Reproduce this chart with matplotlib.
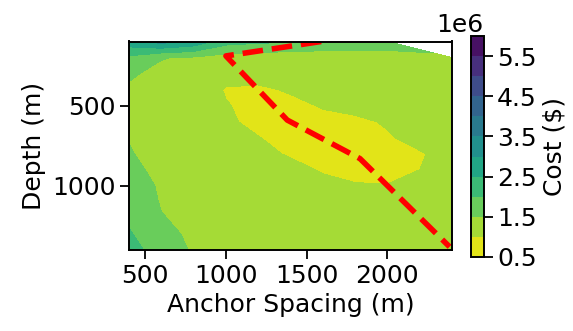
import numpy as np
import matplotlib
matplotlib.use("Agg")
from matplotlib import pyplot as plt

# anchor spacing (m) and depth (m) of the grid
spacing = [400, 600, 800, 1000, 1200, 1400, 1600, 1800, 2000, 2400]
depth = [100, 200, 300, 400, 500, 600, 700, 800, 900, 1000, 1100, 1200, 1300, 1400]

# cost in millions of $, one row per depth
nan = np.nan
cost_musd = [
    [2.80, 3.20, 2.90, 2.20, 2.10, 2.05, 1.90, 1.80, 1.75, nan],
    [1.90, 1.52, 1.45, 1.30, 1.20, 1.20, 1.20, 1.25, 1.30, 1.40],
    [1.55, 1.40, 1.35, 1.15, 1.12, 1.12, 1.15, 1.18, 1.22, 1.35],
    [1.45, 1.38, 1.25, 0.97, 0.95, 1.03, 1.10, 1.12, 1.15, 1.28],
    [1.42, 1.35, 1.20, 1.02, 0.90, 0.93, 1.02, 1.06, 1.10, 1.22],
    [1.44, 1.30, 1.20, 1.05, 0.92, 0.90, 0.93, 0.96, 1.02, 1.18],
    [1.48, 1.30, 1.22, 1.10, 1.01, 0.90, 0.88, 0.90, 0.98, 1.14],
    [1.53, 1.35, 1.25, 1.15, 1.05, 0.98, 0.88, 0.86, 0.88, 1.08],
    [1.60, 1.40, 1.30, 1.20, 1.12, 1.06, 0.98, 0.92, 0.92, 1.08],
    [1.70, 1.45, 1.33, 1.22, 1.18, 1.12, 1.06, 1.02, 1.01, 1.12],
    [1.80, 1.47, 1.36, 1.25, 1.20, 1.16, 1.12, 1.08, 1.06, 1.13],
    [1.92, 1.52, 1.40, 1.28, 1.22, 1.20, 1.16, 1.12, 1.10, 1.14],
    [2.05, 1.62, 1.42, 1.30, 1.25, 1.22, 1.20, 1.16, 1.14, 1.15],
    [2.20, 1.75, 1.45, 1.32, 1.27, 1.25, 1.22, 1.20, 1.18, 1.16],
]

# optimal spacing path
path_spacing = [1590, 1000, 1380, 1830, 2385]
path_depth = [100, 190, 590, 830, 1380]

plt.rcParams['font.size'] = 18
plt.rcParams['axes.linewidth'] = 1.4
plt.rcParams['xtick.major.size'] = 6.3
plt.rcParams['ytick.major.size'] = 6.3
plt.rcParams['xtick.major.width'] = 1.3
plt.rcParams['ytick.major.width'] = 1.3

fig = plt.figure(figsize=(5.73, 3.31), dpi=100)
ax = fig.add_axes([129/573, 81/331, 323/573, 208.5/331])
cax = fig.add_axes([471/573, 74/331, 12.5/573, 221/331])

Z = np.array(cost_musd) * 1e6
levels = np.arange(0.5, 6.01, 0.5) * 1e6
cs = ax.contourf(spacing, depth, Z, levels=levels, cmap='viridis_r')
ax.plot(path_spacing, path_depth, 'r--', lw=4)
ax.set_xlim(400, 2400)
ax.set_ylim(1400, 100)
ax.set_xticks([500, 1000, 1500, 2000])
ax.set_yticks([500, 1000])
ax.set_xlabel('Anchor Spacing (m)')
ax.set_ylabel('Depth (m)')

cb = fig.colorbar(cs, cax=cax)
cb.set_ticks(np.arange(0.5, 5.6, 1.0) * 1e6)
cb.set_label(r'Cost (\$)')

plt.savefig('out.png', dpi=100)
